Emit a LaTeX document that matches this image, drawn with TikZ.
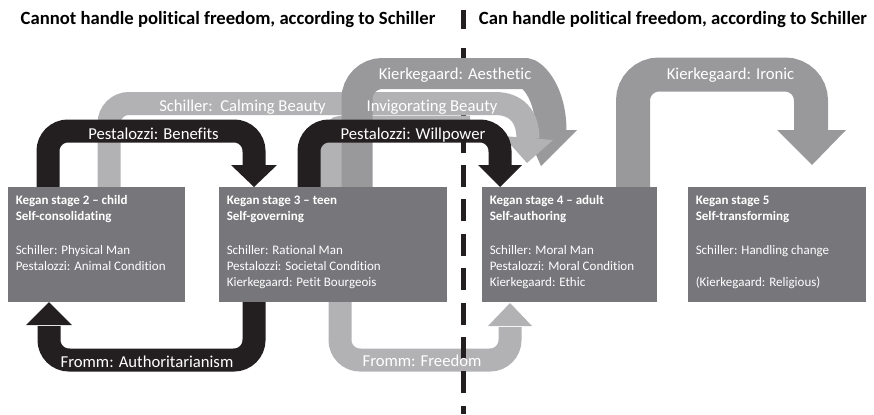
\documentclass[tikz,border=0pt]{standalone}
\usepackage{fontspec}
\setmainfont{Carlito}[Ligatures=NoCommon]
\usetikzlibrary{calc}
\definecolor{boxgray}{RGB}{119,119,123}
\definecolor{arrblack}{RGB}{35,31,32}
\definecolor{arrlight}{RGB}{178,178,181}
\definecolor{arrmid}{RGB}{153,153,156}
\begin{document}
\begin{tikzpicture}[x=0.75pt,y=-0.75pt,
  box/.style={fill=boxgray, draw=none, anchor=north west, inner sep=0pt, outer sep=0pt},
  btxt/.style={text=white, anchor=base west, inner sep=0pt, font=\fontsize{9.75}{12}\selectfont},
  lab/.style={text=white, inner sep=0pt, font=\fontsize{12.5}{14}\selectfont},
  ttl/.style={text=black, inner sep=0pt, font=\bfseries\fontsize{14}{16}\selectfont},
  bandblack/.style={draw=arrblack, line width=17.25pt, rounded corners=15pt},
  bandlight/.style={draw=arrlight, line width=17.25pt, rounded corners=15pt},
  bandmid/.style={draw=arrmid, line width=23.25pt, rounded corners=19pt},
  bandiron/.style={draw=arrmid, line width=25.5pt, rounded corners=19.5pt},
  sepline/.style={draw=arrblack, line width=3.75pt},
]
\useasboundingbox (0,0) rectangle (874,414);

% titles
\node[ttl] (tleft) at (228,20) {Cannot handle political freedom, according to Schiller};
\node[ttl] (tright) at (673,20) {Can handle political freedom, according to Schiller};
\coordinate (s1) at (463,10);
\coordinate (s2) at (463,29);
\draw[sepline] (s1) -- (s2);

% Fromm arrows (bottom)
\draw[bandblack] (254,302) -- (254,360) -- (49,360) -- (49,326);
\fill[arrblack] (26,325) -- (72,325) -- (49,302) -- cycle;
\draw[bandlight] (340,302) -- (340,360) -- (510,360) -- (510,327);
\fill[arrlight] (488,326) -- (532,326) -- (510,303) -- cycle;

% dashed separator
\coordinate (d0) at (463,48);
\coordinate (d1) at (463,84);
\coordinate (d2) at (463,96.2);
\coordinate (d3) at (463,414);
\draw[sepline] (d0) -- (d1);
\draw[sepline, dash pattern=on 16.5pt off 9.3pt] (d2) -- (d3);

% light gray (Schiller) arrows
\draw[bandlight] (109,187) -- (109,103.5) -- (490,103.5);
\draw[bandlight, rounded corners=9pt] (331,187) -- (331,127) -- (470,127);

% mid gray (Kierkegaard aesthetic)
\draw[bandmid] (357,187) -- (357,73.5) -- (500,73.5) .. controls (532,73.5) and (551,92) .. (551,131);
\fill[arrmid] (525,130) -- (577,130) -- (541,166) -- cycle;

% light gray end and head on top
\draw[draw=arrlight, line width=17.25pt] (488,103.5) -- (495,103.5) .. controls (516,103.5) and (528,116) .. (528,139);
\fill[arrlight] (503,136) -- (553,140) -- (527,163) -- cycle;

% black (Pestalozzi) arrows
\draw[bandblack] (48,187) -- (48,131) -- (254,131) -- (254,166);
\fill[arrblack] (231,165) -- (277,165) -- (254,187) -- cycle;
\draw[bandblack] (309,187) -- (309,131) -- (500,131) -- (500,166);
\fill[arrblack] (478,165) -- (522,165) -- (500,187) -- cycle;

% Kierkegaard ironic
\draw[bandiron] (633,187) -- (633,74.5) -- (811,74.5) -- (811,131);
\fill[arrmid] (777,130) -- (846,130) -- (812,165) -- cycle;

% boxes
\node[box, minimum width=132.75pt, minimum height=86.25pt] (b2) at (8,187) {};
\node[box, minimum width=171pt, minimum height=86.25pt] (b3) at (219,187) {};
\node[box, minimum width=131.25pt, minimum height=86.25pt] (b4) at (482,187) {};
\node[box, minimum width=133.5pt, minimum height=86.25pt] (b5) at (688,187) {};

% box texts
\node[btxt] (h2) at (15.5,204) {\vtop{\bfseries\hbox{Kegan stage 2 – child}\hbox{Self-consolidating}}};
\node[btxt] (x2) at (15.5,254) {\vtop{\hbox{Schiller: Physical Man}\hbox{Pestalozzi: Animal Condition}}};
\node[btxt] (h3) at (226.5,204) {\vtop{\bfseries\hbox{Kegan stage 3 – teen}\hbox{Self-governing}}};
\node[btxt] (x3) at (226.5,254) {\vtop{\hbox{Schiller: Rational Man}\hbox{Pestalozzi: Societal Condition}\hbox{Kierkegaard: Petit Bourgeois}}};
\node[btxt] (h4) at (489.5,204) {\vtop{\bfseries\hbox{Kegan stage 4 – adult}\hbox{Self-authoring}}};
\node[btxt] (x4) at (489.5,254) {\vtop{\hbox{Schiller: Moral Man}\hbox{Pestalozzi: Moral Condition}\hbox{Kierkegaard: Ethic}}};
\node[btxt] (h5) at (695.5,204) {\vtop{\bfseries\hbox{Kegan stage 5}\hbox{Self-transforming}}};
\node[btxt] (x5) at (695.5,254) {\vtop{\hbox{Schiller: Handling change}\hbox{\strut}\hbox{(Kierkegaard: Religious)}}};

% arrow labels
\node[lab] (lcalm) at (242.5,107) {Schiller:\ \ Calming Beauty};
\node[lab] (linv) at (432,107) {Invigorating Beauty};
\node[lab] (laes) at (455,75) {Kierkegaard: Aesthetic};
\node[lab] (lben) at (153.5,134) {Pestalozzi: Benefits};
\node[lab] (lwill) at (413,135) {Pestalozzi: Willpower};
\node[lab] (liron) at (730.5,75) {Kierkegaard: Ironic};
\node[lab] (lauth) at (147,362) {Fromm: Authoritarianism};
\node[lab] (lfree) at (422,361) {Fromm: Freedom};
\end{tikzpicture}
\end{document}
